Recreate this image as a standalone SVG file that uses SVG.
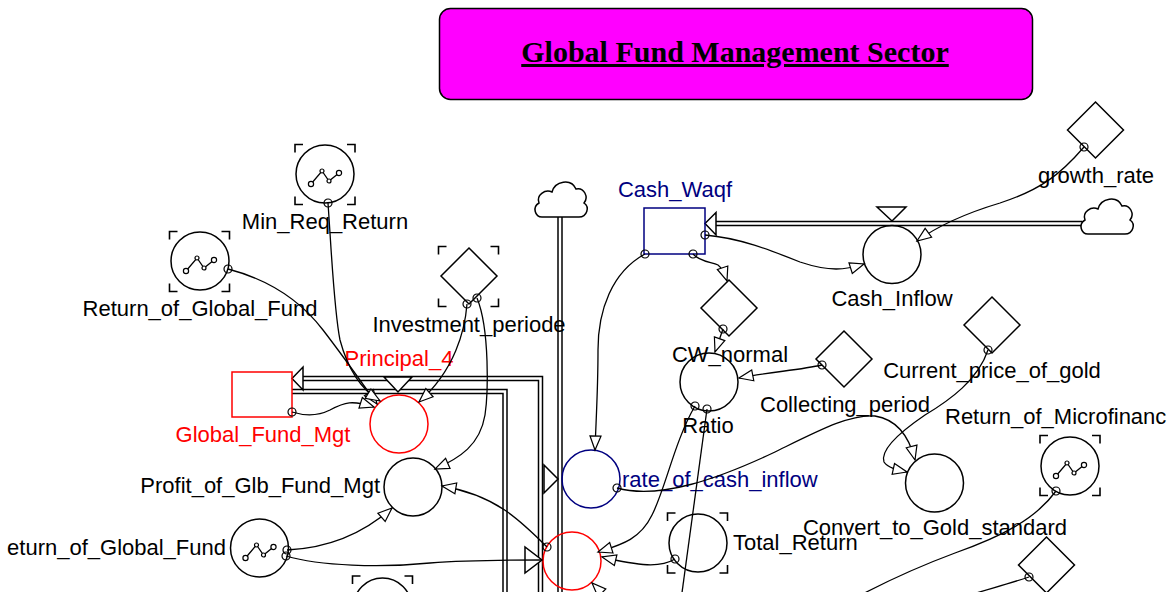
<svg xmlns="http://www.w3.org/2000/svg" xmlns:xlink="http://www.w3.org/1999/xlink" width="1169" height="592" viewBox="0 0 1169 592">
<style>
.lbl{font-family:"Liberation Sans",Arial,sans-serif;font-size:22px;fill:#000}
.red{fill:#ff0000}
.navy{fill:#000080}
.nd{fill:none;stroke:#000;stroke-width:1.5}
.ndr{fill:none;stroke:#ff0000;stroke-width:1.5}
.ndn{fill:none;stroke:#000080;stroke-width:1.5}
.pipeO{fill:none;stroke:#000;stroke-width:5.5;stroke-linejoin:miter}
.pipeI{fill:none;stroke:#fff;stroke-width:2.5;stroke-linejoin:miter}
.tri{fill:#fff;stroke:#000;stroke-width:1.5}
.con{fill:none;stroke:#000;stroke-width:1.3;marker-start:url(#dot);marker-end:url(#arr)}
.con0{fill:none;stroke:#000;stroke-width:1.3;marker-start:url(#dot)}
.cloud{fill:#fff;stroke:#000;stroke-width:1.5}
</style>
<defs>
<marker id="arr" markerUnits="userSpaceOnUse" markerWidth="18" markerHeight="14" refX="15" refY="6" orient="auto" overflow="visible">
<path d="M1,0.5 L15,6 L1,11.5 Z" fill="#fff" stroke="#000" stroke-width="1.2"/>
</marker>
<marker id="dot" markerUnits="userSpaceOnUse" markerWidth="10" markerHeight="10" refX="5" refY="5" overflow="visible">
<circle cx="5" cy="5" r="4" fill="none" stroke="#000" stroke-width="1.2"/>
</marker>
<g id="gicon">
<polyline points="-14,10 -3,-3 4,7 14,-1" fill="none" stroke="#000" stroke-width="1.3"/>
<circle cx="-14" cy="10" r="2.6" fill="#fff" stroke="#000" stroke-width="1.2"/>
<circle cx="-3" cy="-3" r="2" fill="#fff" stroke="#000" stroke-width="1.2"/>
<circle cx="4" cy="7" r="2" fill="#fff" stroke="#000" stroke-width="1.2"/>
<circle cx="14" cy="-1" r="2.6" fill="#fff" stroke="#000" stroke-width="1.2"/>
</g>
<path id="brk" d="M-30,-22 V-30 H-22 M22,-30 H30 V-22 M30,22 V30 H22 M-22,30 H-30 V22" fill="none" stroke="#000" stroke-width="1.6"/>
<path id="cloudp" d="M9,40 C2,40 -1,30 6,26 C3,18 12,12 19,15 C22,4 38,1 43,12 C51,10 56,20 51,26 C57,30 54,40 46,40 Z"/>
</defs>
<rect width="1169" height="592" fill="#fff"/>

<g id="title">
<rect x="439.5" y="8.5" width="593" height="91" rx="11" fill="#ff00ff" stroke="#000" stroke-width="1.5"/>
<text x="735" y="62" text-anchor="middle" font-family="Liberation Serif,'Times New Roman',serif" font-size="30" font-weight="bold" text-decoration="underline">Global Fund Management Sector</text>
</g>

<g id="pipes">
<path class="pipeO" d="M560,212 V600"/>
<path class="pipeI" d="M560,212 V600"/>
<path class="pipeO" d="M540.5,600 V378.5 H303"/>
<path class="pipeI" d="M540.5,600 V378.5 H303"/>
<path class="pipeO" d="M292,391.5 H505 V600"/>
<path class="pipeI" d="M292,391.5 H505 V600"/>
<path class="pipeO" d="M1082,223.5 H716"/>
<path class="pipeI" d="M1082,223.5 H716"/>
<polygon class="tri" points="303,367 303,390 292,378.5"/>
<polygon class="tri" points="716,212.5 716,235 705,223.5"/>
</g>

<g id="cloud_top"><use xlink:href="#cloudp" class="cloud" transform="translate(533,177)"/></g>
<g id="cloud_right"><use xlink:href="#cloudp" class="cloud" transform="translate(1079,194)"/></g>

<g id="Min_Req_Return">
<circle class="nd" cx="325" cy="174" r="29"/>
<use xlink:href="#brk" x="325" y="174.5"/>
<use xlink:href="#gicon" x="325" y="174"/>
<text class="lbl" x="325" y="229" text-anchor="middle">Min_Req_Return</text>
</g>

<g id="Return_of_Global_Fund">
<circle class="nd" cx="200" cy="261" r="29"/>
<use xlink:href="#brk" x="199.5" y="261.5"/>
<use xlink:href="#gicon" x="200" y="261"/>
<text class="lbl" x="200" y="316" text-anchor="middle">Return_of_Global_Fund</text>
</g>

<g id="Return_of_Global_Fund_2">
<circle class="nd" cx="259.5" cy="548" r="29"/>
<use xlink:href="#gicon" x="259.5" y="548"/>
<text class="lbl" x="226" y="555" text-anchor="end">eturn_of_Global_Fund</text>
</g>

<g id="graph_bottom">
<circle class="nd" cx="382.5" cy="607" r="29"/>
<use xlink:href="#brk" x="382.5" y="606"/>
</g>

<g id="Investment_periode">
<polygon class="nd" points="469,248 497,276 469,304 441,276"/>
<use xlink:href="#brk" x="468.5" y="276.5"/>
<text class="lbl" x="469" y="332" text-anchor="middle">Investment_periode</text>
</g>

<g id="Global_Fund_Mgt">
<rect class="ndr" x="232" y="372" width="60" height="45"/>
<text class="lbl red" x="263" y="442" text-anchor="middle">Global_Fund_Mgt</text>
</g>

<g id="Principal_4">
<circle class="ndr" cx="399" cy="424" r="29"/>
<polygon class="tri" points="384,377 412,377 398,392"/>
<text class="lbl red" x="399" y="366" text-anchor="middle">Principal_4</text>
</g>

<g id="Profit_of_Glb_Fund_Mgt">
<circle class="nd" cx="413" cy="487" r="29"/>
<text class="lbl" x="380" y="493" text-anchor="end">Profit_of_Glb_Fund_Mgt</text>
</g>

<g id="Cash_Waqf">
<rect class="ndn" x="644" y="208" width="61" height="46"/>
<text class="lbl navy" x="675" y="197" text-anchor="middle">Cash_Waqf</text>
</g>

<g id="Cash_Inflow">
<circle class="nd" cx="892" cy="254.5" r="29"/>
<polygon class="tri" points="877,207 906,207 892,221"/>
<text class="lbl" x="892" y="306" text-anchor="middle">Cash_Inflow</text>
</g>

<g id="growth_rate">
<polygon class="nd" points="1095.5,102 1123.5,130 1095.5,158 1067.5,130"/>
<text class="lbl" x="1096" y="183" text-anchor="middle">growth_rate</text>
</g>

<g id="CW_normal">
<polygon class="nd" points="729,280 757,308 729,336 701,308"/>
<text class="lbl" x="730" y="362" text-anchor="middle">CW_normal</text>
</g>

<g id="Ratio">
<circle class="nd" cx="709" cy="382" r="29"/>
<text class="lbl" x="708" y="433" text-anchor="middle">Ratio</text>
</g>

<g id="Collecting_period">
<polygon class="nd" points="844,331 872,359 844,387 816,359"/>
<text class="lbl" x="845" y="412" text-anchor="middle">Collecting_period</text>
</g>

<g id="Current_price_of_gold">
<polygon class="nd" points="992,297 1020,325 992,353 964,325"/>
<text class="lbl" x="992" y="378" text-anchor="middle">Current_price_of_gold</text>
</g>

<g id="rate_of_cash_inflow">
<circle class="ndn" cx="591" cy="479" r="29"/>
<polygon class="tri" points="544,465 544,493 558,479"/>
<text class="lbl navy" x="622" y="487">rate_of_cash_inflow</text>
</g>

<g id="outflow_valve">
<circle class="ndr" cx="572" cy="561" r="29"/>
<polygon class="tri" points="525,547 525,573 542,560"/>
</g>

<g id="Total_Return">
<circle class="nd" cx="698" cy="543" r="29"/>
<use xlink:href="#brk" x="697.5" y="543"/>
<text class="lbl" x="733" y="550">Total_Return</text>
</g>

<g id="Convert_to_Gold_standard">
<circle class="nd" cx="934.5" cy="483" r="29"/>
<text class="lbl" x="935" y="535" text-anchor="middle">Convert_to_Gold_standard</text>
</g>

<g id="Return_of_Microfinance">
<circle class="nd" cx="1070" cy="466" r="29"/>
<use xlink:href="#brk" x="1070" y="465.5"/>
<use xlink:href="#gicon" x="1070" y="466"/>
<text class="lbl" x="945" y="424">Return_of_Microfinanc</text>
</g>

<g id="diamond_bottom">
<polygon class="nd" points="1046.5,537 1074.5,565 1046.5,593 1018.5,565"/>
</g>

<g id="connectors">
<path class="con" d="M228,269 C270,280 300,300 323,330 C340,352 360,380 377,404"/>
<path class="con" d="M328,203 C332,260 334,310 340,340 C348,370 362,390 380,401"/>
<path class="con" d="M467,304 C465,330 455,370 419,402"/>
<path class="con" d="M477,298 C490,330 488,395 485,415 C480,445 460,458 435,469"/>
<path class="con" d="M292,412 C305,416 318,416 330,410 C345,402 352,400 374,407"/>
<path class="con" d="M287,550 C330,548 365,532 392,508"/>
<path class="con0" d="M286,556 C320,566 380,568 430,563 C470,560 500,560 541,560"/>
<path class="con" d="M547,547 C520,520 495,495 442,486"/>
<path class="con" d="M645,254 C612,272 598,310 598,350 C598,390 596,420 595,450"/>
<path class="con" d="M693,254 C700,262 712,262 718,265 C722,268 725,275 727,281"/>
<path class="con" d="M723,329 L715,352"/>
<path class="con" d="M822,365 C800,370 770,372 739,378"/>
<path class="con" d="M705,235 C740,238 770,250 800,262 C830,272 845,270 864,264"/>
<path class="con" d="M1084,147 C1060,175 1040,190 1000,203 C960,215 935,228 917,241"/>
<path class="con" d="M695,406 C675,440 665,490 652,515 C640,540 620,545 598,552"/>
<path class="con0" d="M707,409 L681,600"/>
<path class="con" d="M675,559 C660,568 640,566 602,557"/>
<path class="con" d="M617,488 C660,500 720,478 775,452 C820,430 850,414 875,416 C900,420 910,440 915,460"/>
<path class="con" d="M988,350 C978,380 950,400 925,415 C900,432 880,450 884,462 C888,468 898,470 907,472"/>
<path class="con0" d="M1056,491 C1035,520 1000,537 955,553 C920,566 885,582 855,598"/>
<path class="con0" d="M1029,577 C1005,585 985,590 960,598"/>
<path fill="none" stroke="#000" stroke-width="1.3" marker-end="url(#arr)" d="M614,605 L592,583"/>
</g>
</svg>
